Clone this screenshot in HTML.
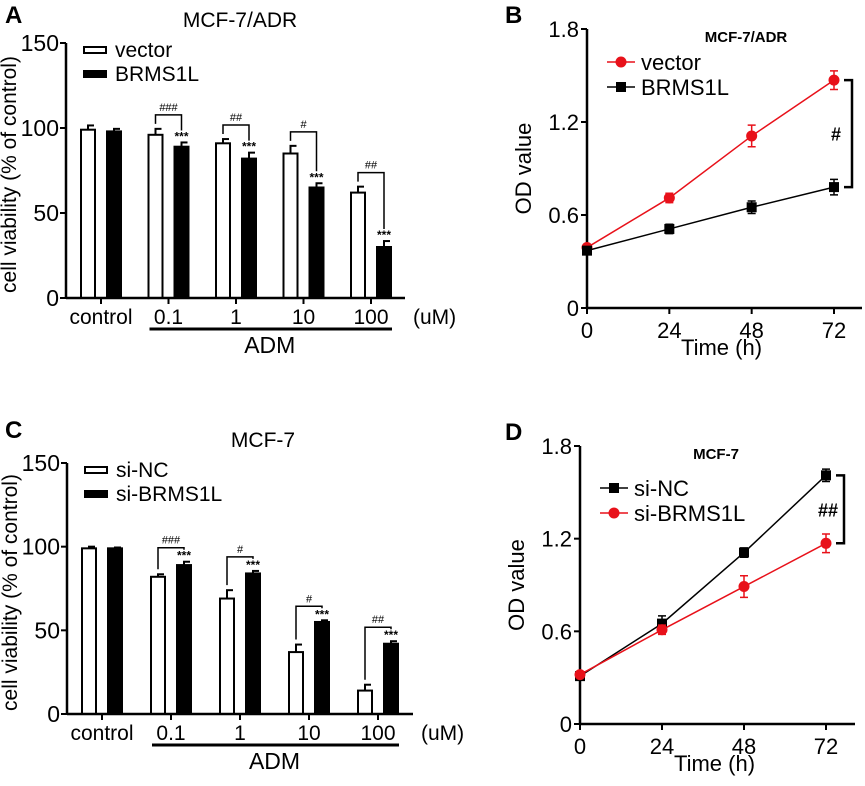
<!DOCTYPE html>
<html><head><meta charset="utf-8"><style>
body{margin:0;background:#fff}
svg text{font-family:"Liberation Sans",Arial,sans-serif}
</style></head><body>
<svg id="fig" width="865" height="781" viewBox="0 0 865 781" xmlns="http://www.w3.org/2000/svg"></svg>
<script>
const barCategories=["control","0.1","1","10","100"];
const aVector=[99,96,91,85,62];
const aVectorErr=[2.5,3.5,2.5,4.5,3.5];
const aBrms=[98,89,82,65,30];
const aBrmsErr=[1.5,2.5,3.5,2.5,3.5];
const aHash=["","###","##","#","##"];
const cSiNC=[99,82,69,37,14];
const cSiNCErr=[1,1.5,5,4.5,3.5];
const cSiB=[99,89,84,55,42];
const cSiBErr=[0.5,2,1.5,1,1.5];
const cHash=["","###","#","#","##"];
const barTicks=[0,50,100,150];
const timePoints=[0,24,48,72];
const odTicks=[0,0.6,1.2,1.8];
const bVector=[0.39,0.71,1.11,1.47];
const bVectorErr=[0.02,0.03,0.07,0.06];
const bBrms=[0.37,0.51,0.65,0.78];
const bBrmsErr=[0.02,0.03,0.04,0.05];
const dSiNC=[0.31,0.65,1.11,1.61];
const dSiNCErr=[0.02,0.05,0.03,0.04];
const dSiB=[0.32,0.61,0.89,1.17];
const dSiBErr=[0.02,0.03,0.07,0.06];

const svg=document.getElementById('fig');
const NS="http://www.w3.org/2000/svg";
function el(tag,attrs,parent,txt){const e=document.createElementNS(NS,tag);for(const k in attrs)e.setAttribute(k,attrs[k]);if(txt!==undefined)e.textContent=txt;(parent||svg).appendChild(e);return e;}

function barChart(o){
  const g=el('g',{});
  
  
  const y=v=>o.y0-(v/150)*(o.y0-o.y150);
  const gx=i=>o.x0+i*o.gap;
  for(let i=0;i<barCategories.length;i++){
    const x1=gx(i), x2=x1+o.off;
    [[o.s1,o.e1,x1,'#fff',o.n1],[o.s2,o.e2,x2,'#000',o.n2]].forEach(([s,e,x,f,n])=>{
      const top=y(s[i]);
      el('line',{x1:x+o.bw/2,x2:x+o.bw/2,y1:top,y2:y(s[i]+e[i]),stroke:'#000','stroke-width':2},g);
      el('line',{x1:x+o.bw/2-1,x2:x+o.bw/2+6,y1:y(s[i]+e[i]),y2:y(s[i]+e[i]),stroke:'#000','stroke-width':2},g);
      const r=el('rect',{x:x+1,y:top,width:o.bw-2,height:o.y0-top,fill:f,stroke:'#000','stroke-width':2},g);
      
      
    });
    if(i>0){
      const v1=y(o.s1[i]+o.e1[i]), v2=y(o.s2[i]+o.e2[i]);
      const by=Math.min(v1,v2)-14;
      const bx1=x1+o.bw/2, bx2=x2+o.bw/2;
      el('polyline',{points:`${bx1},${v1-5} ${bx1},${by} ${bx2},${by} ${bx2},${v2-12}`,fill:'none',stroke:'#000','stroke-width':1.5},g);
      el('text',{x:(bx1+bx2)/2,y:by-4,'font-size':11,'text-anchor':'middle'},g,o.hash[i]);
      el('text',{x:bx2,y:v2-2,'font-size':12,'text-anchor':'middle','font-weight':'bold'},g,'***');
    }
    const cx=x1+(o.off+o.bw)/2;
    el('line',{x1:cx,x2:cx,y1:o.y0,y2:o.y0+6,stroke:'#000','stroke-width':2},g);
    el('text',{x:cx,y:o.y0+26,'font-size':21,'text-anchor':'middle'},g,barCategories[i]);
  }
  el('line',{x1:o.ax,x2:o.ax,y1:o.y150,y2:o.y0+1,stroke:'#000','stroke-width':2.5},g);
  el('line',{x1:o.ax,x2:o.axEnd,y1:o.y0,y2:o.y0,stroke:'#000','stroke-width':2.5},g);
  barTicks.forEach(t=>{el('line',{x1:o.ax-6,x2:o.ax,y1:y(t),y2:y(t),stroke:'#000','stroke-width':2},g);
    el('text',{x:o.ax-7,y:y(t)+8,'font-size':23,'text-anchor':'end'},g,t);});
  el('text',{x:o.axEnd+8,y:o.y0+26,'font-size':21},g,'(uM)');
  el('line',{x1:gx(1)+2,x2:gx(4)+o.off+o.bw,y1:o.y0+31,y2:o.y0+31,stroke:'#000','stroke-width':3},g);
  el('text',{x:(gx(1)+gx(4)+o.off+o.bw)/2,y:o.y0+55,'font-size':23,'text-anchor':'middle'},g,'ADM');
  const yt=el('text',{transform:`translate(${o.ax-50},${(o.y0+o.y150)/2+4}) rotate(-90)`,'font-size':21,'text-anchor':'middle'},g,'cell viability (% of control)');
  
  el('text',{x:o.tx,y:o.ty,'font-size':21,'text-anchor':'middle'},g,o.title);
  el('text',{x:o.px,y:o.py,'font-size':24,'font-weight':'bold'},g,o.panel);
  el('rect',{x:o.ax+18,y:o.y150+4,width:22,height:6,fill:'#fff',stroke:'#000','stroke-width':2},g);
  el('text',{x:o.ax+49,y:o.y150+14,'font-size':21},g,o.n1);
  el('rect',{x:o.ax+17,y:o.y150+27,width:24,height:8,fill:'#000'},g);
  el('text',{x:o.ax+49,y:o.y150+38,'font-size':21},g,o.n2);
}

function lineChart(o){
  const g=el('g',{});
  
  
  const y=v=>o.y0-(v/1.8)*(o.y0-o.ytop);
  const x=t=>o.ax+(t/72)*(o.x72-o.ax);
  el('line',{x1:o.ax,x2:o.ax,y1:o.ytop,y2:o.y0+1,stroke:'#000','stroke-width':2.5},g);
  el('line',{x1:o.ax,x2:o.axEnd,y1:o.y0,y2:o.y0,stroke:'#000','stroke-width':2.5},g);
  odTicks.forEach(t=>{el('line',{x1:o.ax-6,x2:o.ax,y1:y(t),y2:y(t),stroke:'#000','stroke-width':2},g);
    el('text',{x:o.ax-8,y:y(t)+8,'font-size':22,'text-anchor':'end'},g,t);});
  timePoints.forEach(t=>{el('line',{x1:x(t),x2:x(t),y1:o.y0,y2:o.y0+6,stroke:'#000','stroke-width':2},g);
    el('text',{x:x(t),y:o.y0+30,'font-size':22,'text-anchor':'middle'},g,t);});
  el('text',{x:(o.ax+o.axEnd)/2-3,y:o.y0+47,'font-size':22,'text-anchor':'middle'},g,'Time (h)');
  el('text',{transform:`translate(${o.ax-56},${(o.y0+o.ytop)/2}) rotate(-90)`,'font-size':22,'text-anchor':'middle'},g,'OD value');
  el('text',{x:o.tx,y:o.ytop+13,'font-size':15,'font-weight':'bold','text-anchor':'middle'},g,o.title);
  el('text',{x:505,y:o.ytop-6,'font-size':24,'font-weight':'bold'},g,o.panel);
  o.series.forEach((s,si)=>{
    const pts=s.v.map((v,i)=>`${x(timePoints[i])},${y(v)}`).join(' ');
    const pl=el('polyline',{points:pts,fill:'none',stroke:s.c,'stroke-width':1.5},g);
    
    s.v.forEach((v,i)=>{
      const cx=x(timePoints[i]),cy=y(v),e=s.e[i];
      el('path',{d:`M${cx},${y(v-e)}V${y(v+e)}M${cx-4},${y(v-e)}h8M${cx-4},${y(v+e)}h8`,stroke:s.c,'stroke-width':1.5,fill:'none'},g);
      if(s.m==='sq')el('rect',{x:cx-5,y:cy-5,width:10,height:10,fill:s.c},g);
      else el('circle',{cx:cx,cy:cy,r:5.5,fill:s.c},g);
    });
    const ly=o.ytop+o.legY+si*25;
    el('line',{x1:o.ax+o.legX,x2:o.ax+o.legX+28,y1:ly,y2:ly,stroke:s.c,'stroke-width':1.5},g);
    if(s.m==='sq')el('rect',{x:o.ax+o.legX+9,y:ly-5,width:10,height:10,fill:s.c},g);
    else el('circle',{cx:o.ax+o.legX+14,cy:ly,r:5.5,fill:s.c},g);
    el('text',{x:o.ax+o.legX+34,y:ly+8,'font-size':22},g,s.n);
  });
  const t1=y(o.series[o.top].v[3]),t2=y(o.series[1-o.top].v[3]);
  const bx=o.x72+18;
  el('polyline',{points:`${bx-8},${t1} ${bx},${t1} ${bx},${t2} ${bx-8},${t2}`,fill:'none',stroke:'#000','stroke-width':2.5},g);
  el('text',{x:bx-16,y:(t1+t2)/2+7,'font-size':18,'font-weight':'bold','text-anchor':'middle'},g,o.hash);
}

barChart({name:'chart-a',panel:'A',px:5,py:23,title:'MCF-7/ADR',tx:240,ty:27,ax:66,axEnd:405,y0:298,y150:43,x0:80,gap:67.5,off:26,bw:16,
  s1:aVector,e1:aVectorErr,s2:aBrms,e2:aBrmsErr,n1:'vector',n2:'BRMS1L',hash:aHash});
barChart({name:'chart-c',panel:'C',px:5,py:438,title:'MCF-7',tx:263,ty:447,ax:67,axEnd:413,y0:714,y150:463,x0:81,gap:69,off:26,bw:16,
  s1:cSiNC,e1:cSiNCErr,s2:cSiB,e2:cSiBErr,n1:'si-NC',n2:'si-BRMS1L',hash:cHash});
lineChart({name:'chart-b',panel:'B',title:'MCF-7/ADR',tx:746,ax:587,axEnd:862,x72:834,y0:308,ytop:29,legX:20,legY:33,top:0,hash:'#',
  series:[{n:'vector',v:bVector,e:bVectorErr,c:'#e8111a',m:'ci'},{n:'BRMS1L',v:bBrms,e:bBrmsErr,c:'#000',m:'sq'}]});
lineChart({name:'chart-d',panel:'D',title:'MCF-7',tx:716,ax:580,axEnd:855,x72:826,y0:724,ytop:446,legX:20,legY:42,top:0,hash:'##',
  series:[{n:'si-NC',v:dSiNC,e:dSiNCErr,c:'#000',m:'sq'},{n:'si-BRMS1L',v:dSiB,e:dSiBErr,c:'#e8111a',m:'ci'}]});
</script>
</body></html>
